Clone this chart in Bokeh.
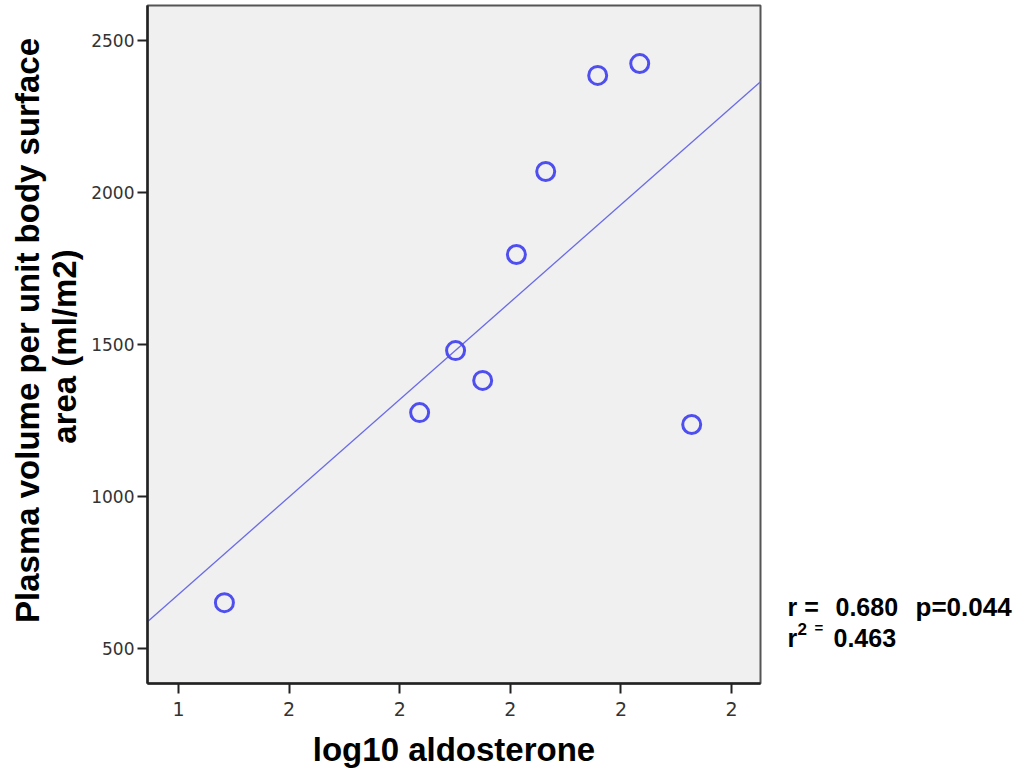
import math
import numpy as np
from bokeh.plotting import figure
from bokeh.layouts import row
from bokeh.models import Range1d, FixedTicker
from bokeh.core.properties import value
from bokeh.embed import file_html
from bokeh.resources import INLINE

# ---- data ----
log10_aldosterone = [1.483, 1.836, 1.901, 1.950, 2.011, 2.064, 2.158, 2.234, 2.328]
plasma_volume = [651, 1276, 1480, 1382, 1796, 2069, 2385, 2424, 1237]
x_ticks = [1.4, 1.6, 1.8, 2.0, 2.2, 2.4]
x_tick_labels = ["1", "2", "2", "2", "2", "2"]
y_ticks = [500, 1000, 1500, 2000, 2500]
x_title = "log10 aldosterone"
y_title_lines = ["Plasma volume per unit body surface", "area (ml/m2)"]
stats_r = "0.680"
stats_p = "p=0.044"
stats_r2 = "0.463"

X0, X1 = 1.3439, 2.4524
Y0, Y1 = 385, 2615

H = 773
LW = 86            # left title panel width
FL, FT, FW, FH = 147, 5, 613, 678   # frame in page px
MW = FL + FW + 10 - LW              # main figure width
RW = 249                            # right stats panel width
BOT = H - FT - FH
FONT = "Liberation Sans"


def blank(width, x0):
    f = figure(width=width, height=H, output_backend="svg", toolbar_location=None,
               x_range=Range1d(x0, x0 + width), y_range=Range1d(H - FT - FH, H - FT),
               x_axis_location=None, y_axis_location=None,
               min_border=0, min_border_left=0, min_border_right=0,
               min_border_top=FT, min_border_bottom=BOT)
    f.outline_line_color = None
    f.xgrid.visible = False
    f.ygrid.visible = False
    f.background_fill_color = "white"
    f.border_fill_color = "white"
    return f


def txt(f, s, px, py, size, align="left", baseline="alphabetic", angle=0.0):
    f.text(x=[px], y=[H - py], text=[s], angle=angle,
           text_font=value(FONT), text_font_style="bold", text_font_size=size,
           text_color="black", text_align=align, text_baseline=baseline)


# ---- left panel: y title ----
pl = blank(LW, 0)
txt(pl, y_title_lines[0], 27, 330, "33px", "center", "alphabetic", math.pi / 2)
txt(pl, y_title_lines[1], 64, 346, "33px", "center", "alphabetic", math.pi / 2)

# ---- main plot ----
p = figure(width=MW, height=H, output_backend="svg", toolbar_location=None,
           x_range=Range1d(X0, X1), y_range=Range1d(Y0, Y1),
           min_border_left=FL - LW, min_border_right=MW - (FL - LW) - FW,
           min_border_top=FT, min_border_bottom=BOT)

p.background_fill_color = "#f0f0f0"
p.border_fill_color = "white"
p.outline_line_color = "#555555"
p.outline_line_width = 2
p.xgrid.visible = False
p.ygrid.visible = False

for ax in (p.xaxis[0], p.yaxis[0]):
    ax.axis_line_color = "#222222"
    ax.axis_line_width = 2.5
    ax.major_tick_line_color = "#222222"
    ax.major_tick_line_width = 2
    ax.major_tick_out = 10
    ax.major_tick_in = 0
    ax.minor_tick_line_color = None
    ax.major_label_text_font = "DejaVu Sans"
    ax.major_label_text_color = "#333333"

p.xaxis.major_label_text_font_size = "19px"
p.yaxis.major_label_text_font_size = "17px"
p.xaxis.ticker = FixedTicker(ticks=x_ticks)
p.xaxis.major_label_overrides = {t: l for t, l in zip(x_ticks, x_tick_labels)}
p.yaxis.ticker = FixedTicker(ticks=y_ticks)
p.xaxis.major_label_standoff = 8
p.yaxis.major_label_standoff = 3
p.xaxis.axis_label = x_title
p.xaxis.axis_label_text_font = FONT
p.xaxis.axis_label_text_font_style = "bold"
p.xaxis.axis_label_text_font_size = "33px"
p.xaxis.axis_label_text_color = "black"
p.xaxis.axis_label_standoff = 12

# regression line fitted to the points
xa = np.array(log10_aldosterone)
ya = np.array(plasma_volume)
slope, intercept = np.polyfit(xa, ya, 1)
p.line([X0, X1], [intercept + slope * X0, intercept + slope * X1],
       line_color="#6a6ae8", line_width=1.3)

p.scatter(log10_aldosterone, plasma_volume, marker="circle", size=18,
          fill_color=None, line_color="#4f4ff0", line_width=3)

# ---- right panel: statistics ----
pr = blank(RW, LW + MW)
txt(pr, "r =", 787, 606, "25px")
txt(pr, stats_r, 835, 606, "25px")
txt(pr, stats_p, 915, 606, "26px")
txt(pr, "r", 787, 637, "25px")
txt(pr, "2", 797, 628, "17px")
txt(pr, "=", 814, 627, "15px")
txt(pr, stats_r2, 833, 637, "25px")

layout = row(pl, p, pr, spacing=0)
open("out.html", "w").write(file_html(layout, INLINE))
